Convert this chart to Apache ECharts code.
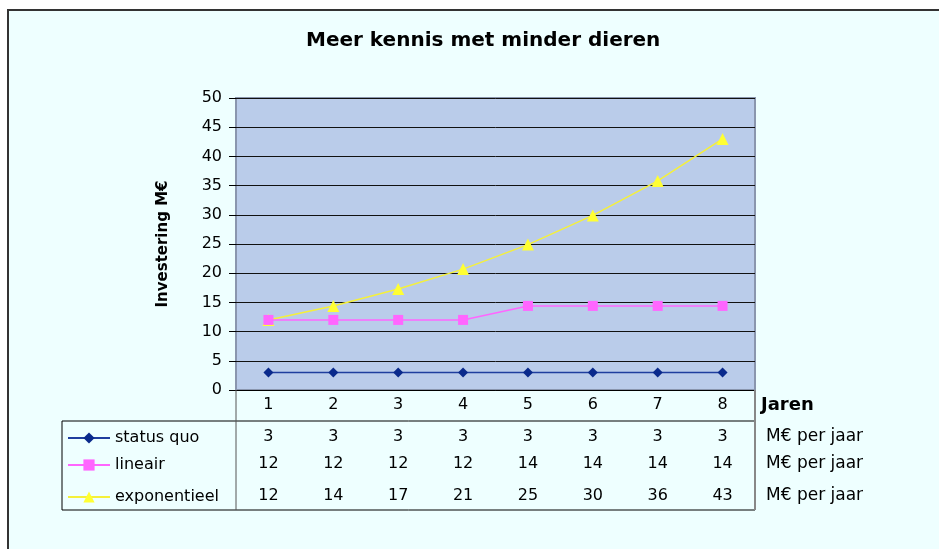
<!DOCTYPE html>
<html>
<head>
<meta charset="utf-8">
<script src="https://cdn.jsdelivr.net/npm/echarts@6/dist/echarts.min.js"></script>
<style>
  html, body { margin: 0; padding: 0; background: #fff; }
  #chart { width: 939px; height: 549px; }
</style>
</head>
<body>
<div id="chart"></div>
<script>
const years = ['1', '2', '3', '4', '5', '6', '7', '8']
const seriesNames = ['status quo', 'lineair', 'exponentieel']
const statusQuo = [3, 3, 3, 3, 3, 3, 3, 3]
const lineair = [12, 12, 12, 12, 14.4, 14.4, 14.4, 14.4]
const exponentieel = [12, 14.4, 17.3, 20.7, 24.9, 29.9, 35.8, 43]
const unitLabel = 'M€ per jaar'

const font = 'DejaVu Sans, Verdana, sans-serif'
const yearRowY = 405
const rowY = [437, 464, 496]
const plotBottom = 390

const instance = echarts.init(document.getElementById('chart'))

const seriesData = [statusQuo, lineair, exponentieel]
const colors = ['#1F3E9E', '#FF66FF', '#F5F03A']
const markerColors = ['#0A2A8C', '#FF66FF', '#FFFF33']
const symbols = ['diamond', 'rect', 'triangle']
const symbolSizes = [10, 10, 12]

const labelStyle = {
  margin: 0,
  verticalAlign: 'middle',
  fontFamily: font,
  fontSize: 16,
  color: '#000'
}

// the row with the years, plus "Jaren"
const yearAxis = {
  type: 'category',
  gridIndex: 0,
  position: 'bottom',
  data: years,
  offset: yearRowY - plotBottom,
  axisLine: { show: false },
  axisTick: { show: false },
  axisLabel: labelStyle,
  name: 'Jaren',
  nameLocation: 'end',
  nameGap: 6,
  nameTextStyle: { fontFamily: font, fontSize: 18, fontWeight: 'bold', color: '#000', align: 'left', verticalAlign: 'middle' }
}

// rows of the data table, one x axis each
const tableAxes = seriesData.map((arr, i) => ({
  type: 'category',
  gridIndex: 0,
  position: 'bottom',
  data: arr.map(v => String(Math.round(v))),
  offset: rowY[i] - plotBottom,
  axisLine: { show: false },
  axisTick: { show: false },
  axisLabel: labelStyle,
  name: unitLabel,
  nameLocation: 'end',
  nameGap: 11,
  nameTextStyle: { fontFamily: font, fontSize: 17, color: '#000', align: 'left', verticalAlign: 'middle' }
}))

const option = {
  animation: false,
  title: {
    text: 'Meer kennis met minder dieren',
    left: 301,
    top: 26,
    textStyle: { fontFamily: font, fontSize: 20, fontWeight: 'bold', color: '#000' }
  },
  legend: seriesNames.map((n, i) => ({
    data: [n],
    orient: 'vertical',
    left: 67,
    top: rowY[i] - 7,
    padding: 0,
    itemWidth: 42,
    itemHeight: 14,
    itemGap: 6,
    textStyle: { fontFamily: font, fontSize: 16, color: '#000' }
  })),
  grid: {
    left: 236,
    right: 184,
    top: 98,
    bottom: 549 - plotBottom,
    show: true,
    backgroundColor: '#BACCEA',
    borderColor: '#8A96AE',
    borderWidth: 2
  },
  xAxis: [{
    type: 'category',
    data: years,
    boundaryGap: true,
    axisLine: { show: true, lineStyle: { color: '#000', width: 1 } },
    axisTick: { show: false },
    axisLabel: { show: false }
  }, yearAxis].concat(tableAxes),
  yAxis: {
    type: 'value',
    min: 0,
    max: 50,
    interval: 5,
    axisLine: { show: false },
    axisTick: { show: true, length: 7, lineStyle: { color: '#000' } },
    axisLabel: { margin: 14, fontFamily: font, fontSize: 16, color: '#000' },
    splitLine: { show: true, lineStyle: { color: '#111', width: 1 } },
    name: 'Investering M€',
    nameLocation: 'middle',
    nameRotate: 90,
    nameGap: 65,
    nameTextStyle: { fontFamily: font, fontSize: 15, fontWeight: 'bold', color: '#000' }
  },
  graphic: [
    {
      type: 'rect',
      z: -100,
      shape: { x: 8, y: 10, width: 960, height: 560 },
      style: { fill: '#EEFFFF', stroke: '#333', lineWidth: 2 }
    },
    { type: 'line', z: 100, shape: { x1: 62, y1: 421, x2: 755, y2: 421 }, style: { stroke: '#000', lineWidth: 1 } },
    { type: 'line', z: 100, shape: { x1: 62, y1: 510, x2: 755, y2: 510 }, style: { stroke: '#000', lineWidth: 1 } },
    { type: 'line', z: 100, shape: { x1: 62, y1: 421, x2: 62, y2: 510 }, style: { stroke: '#000', lineWidth: 1 } },
    { type: 'line', z: 100, shape: { x1: 236, y1: 390, x2: 236, y2: 510 }, style: { stroke: '#555', lineWidth: 1 } },
    { type: 'line', z: 100, shape: { x1: 755, y1: 390, x2: 755, y2: 510 }, style: { stroke: '#888', lineWidth: 2 } }
  ],
  series: seriesNames.map((n, i) => ({
    name: n,
    type: 'line',
    data: seriesData[i],
    xAxisIndex: 0,
    symbol: symbols[i],
    symbolSize: symbolSizes[i],
    showAllSymbol: true,
    lineStyle: { color: colors[i], width: 1.5 },
    itemStyle: { color: markerColors[i], borderWidth: 0 },
    z: 10 - i
  }))
}

instance.setOption(option)
</script>
</body>
</html>
